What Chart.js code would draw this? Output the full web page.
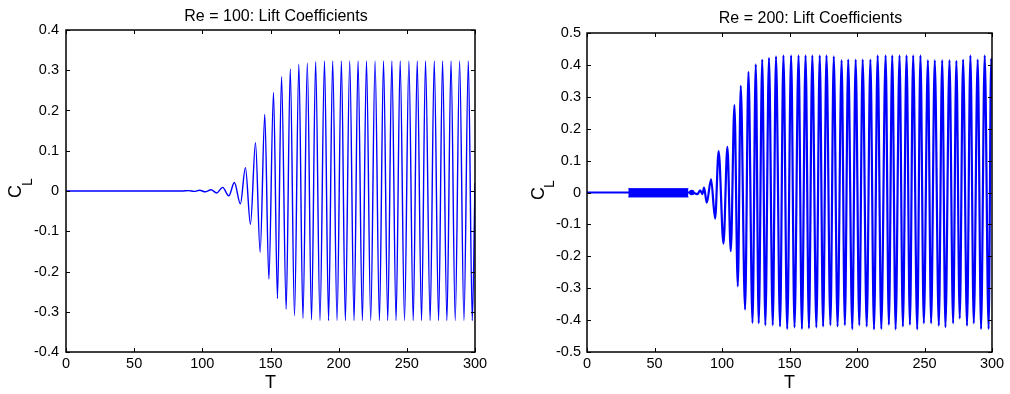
<!DOCTYPE html>
<html>
<head>
<meta charset="utf-8">
<script src="https://cdn.jsdelivr.net/npm/chart.js@4/dist/chart.umd.min.js"></script>
<style>
  html, body { margin: 0; padding: 0; background: #fff; }
  #wrap { position: relative; width: 1010px; height: 394px; }
  #c1 { position: absolute; left: 0; top: 0; }
  #c2 { position: absolute; left: 505px; top: 0; }
</style>
</head>
<body>
<div id="wrap">
  <canvas id="c1" width="505" height="394"></canvas>
  <canvas id="c2" width="505" height="394"></canvas>
</div>
<script>
// ---------- Data ----------
const titles = ["Re = 100: Lift Coefficients", "Re = 200: Lift Coefficients"];
const xTitle = "T";
const yTitleMain = "C";
const yTitleSub = "L";

// Re = 100: extrema of the lift signal
const leftT = [0, 85, 90, 94, 98, 102, 106.4, 110.5, 114.9, 119.4, 123.5, 127.9, 131.6, 135.3, 139.0, 142.4,
  145.8, 148.8, 152.2, 155.1, 158.1, 161.5, 164.5, 167.6, 170.8, 173.8, 177.0, 180.1, 183.1, 186.3, 189.6,
  192.6, 195.6, 198.8, 202.0, 204.9, 208.1, 211.3, 214.2, 217.4, 220.4, 223.5, 226.7, 229.9, 232.9,
  236.0, 239.0, 242.1, 245.1, 248.3, 251.5, 254.7, 257.6, 260.8, 263.7, 267.1, 270.1, 273.3, 276.2,
  279.4, 282.4, 285.5, 288.7, 291.9, 295.1, 298.0, 300];
const leftCL = [0, 0, 0.001, -0.001, 0.002, -0.002, 0.003, -0.005, 0.009, -0.012, 0.021, -0.032, 0.058, -0.083, 0.12, -0.152,
  0.19, -0.219, 0.245, -0.267, 0.284, -0.294, 0.303, -0.31, 0.315, -0.316, 0.318, -0.32, 0.321, -0.322, 0.323,
  -0.322, 0.323, -0.322, 0.323, -0.322, 0.323, -0.322, 0.323, -0.322, 0.323, -0.322, 0.323, -0.322, 0.323,
  -0.322, 0.323, -0.322, 0.323, -0.322, 0.323, -0.322, 0.323, -0.322, 0.323, -0.322, 0.323, -0.322, 0.323,
  -0.322, 0.323, -0.322, 0.323, -0.322, 0.323, -0.322, 0.02];

// Re = 200: extrema of the lift signal
const rightT = [0, 77.6, 81.8, 83.8, 85.5, 86.7, 88.7, 91.9, 94.9, 97.5,
  101.1, 104.0, 106.5, 109.2, 111.7, 113.9, 117.1, 119.6, 122.6, 125.0,
  127.2, 129.8, 132.1, 134.8, 137.6, 140.0, 143.0, 145.5, 148.3, 151.2,
  153.7, 156.7, 159.2, 161.9, 164.4, 166.9, 169.9, 172.4, 174.9, 177.4,
  180.3, 182.8, 185.6, 188.6, 191.0, 193.5, 196.5, 199.0, 201.7, 204.2,
  207.2, 209.9, 212.6, 215.3, 218.0, 221.2, 223.6, 226.1, 228.6, 231.5,
  234.0, 236.7, 239.2, 241.6, 244.6, 247.0, 249.5, 252.5, 254.9, 257.6,
  260.6, 263.1, 265.5, 268.5, 271.2, 273.6, 276.1, 278.6, 281.5, 284.0,
  286.5, 289.4, 291.9, 294.6, 297.5, 299.4, 300];
const rightCL = [0, 0, -0.005, 0.007, -0.005, 0.015, -0.032, 0.041, -0.082, 0.13,
  -0.16, 0.143, -0.184, 0.274, -0.294, 0.334, -0.367, 0.378, -0.409, 0.402,
  -0.41, 0.417, -0.416, 0.422, -0.416, 0.427, -0.42, 0.43, -0.428, 0.43,
  -0.423, 0.43, -0.428, 0.43, -0.426, 0.43, -0.423, 0.43, -0.42, 0.43,
  -0.416, 0.427, -0.42, 0.415, -0.416, 0.417, -0.428, 0.417, -0.416, 0.417,
  -0.42, 0.417, -0.429, 0.43, -0.428, 0.43, -0.415, 0.43, -0.429, 0.43,
  -0.42, 0.43, -0.415, 0.43, -0.429, 0.43, -0.41, 0.415, -0.41, 0.415,
  -0.418, 0.415, -0.422, 0.415, -0.41, 0.413, -0.395, 0.417, -0.418, 0.43,
  -0.41, 0.417, -0.428, 0.43, -0.428, 0.42, 0.35];

// Re = 200: narrow high-frequency band before transition
const bandT = [30.6, 75.1];
const bandHi = [0.012, 0.012];
const bandLo = [-0.014, -0.014];
const dotT = [77.6];
const dotCL = [0.0];

// Axis ticks
const xTicks = [0, 50, 100, 150, 200, 250, 300];
const leftYTicks = [-0.4, -0.3, -0.2, -0.1, 0, 0.1, 0.2, 0.3, 0.4];
const rightYTicks = [-0.5, -0.4, -0.3, -0.2, -0.1, 0, 0.1, 0.2, 0.3, 0.4, 0.5];

// ---------- Helpers ----------
const FONT = "'Liberation Sans', Arial, Helvetica, sans-serif";
const BLUE = "rgb(0,0,255)";
function zip(xs, ys) { return xs.map((x, i) => ({ x: x, y: ys[i] })); }
function fmt(v) { const r = Math.round(v * 10) / 10; return r === 0 ? "0" : String(r); }

const framePlugin = {
  id: "frame",
  afterDraw(chart, args, opts) {
    const ctx = chart.ctx;
    const a = chart.chartArea;
    const xs = chart.scales.x, ys = chart.scales.y;
    ctx.save();
    ctx.strokeStyle = "#000";
    ctx.lineWidth = 1.5;
    ctx.strokeRect(a.left, a.top, a.right - a.left, a.bottom - a.top);
    ctx.lineWidth = 1;
    const tl = 4;
    ctx.beginPath();
    xs.ticks.forEach(t => {
      const px = Math.round(xs.getPixelForValue(t.value)) + 0.5;
      ctx.moveTo(px, a.bottom); ctx.lineTo(px, a.bottom - tl);
      ctx.moveTo(px, a.top); ctx.lineTo(px, a.top + tl);
    });
    ys.ticks.forEach(t => {
      const py = Math.round(ys.getPixelForValue(t.value)) + 0.5;
      ctx.moveTo(a.left, py); ctx.lineTo(a.left + tl, py);
      ctx.moveTo(a.right, py); ctx.lineTo(a.right - tl, py);
    });
    ctx.stroke();
    // title
    ctx.fillStyle = "#000";
    ctx.font = "16px " + FONT;
    ctx.textAlign = "center";
    ctx.textBaseline = "alphabetic";
    ctx.fillText(opts.title, opts.titleX, opts.titleY);
    // y label C_L (rotated)
    ctx.rotate(-Math.PI / 2);
    ctx.textAlign = "left";
    ctx.font = "18px " + FONT;
    ctx.fillText(yTitleMain, -opts.cStartY, opts.cBaseX);
    ctx.font = "14px " + FONT;
    ctx.fillText(yTitleSub, -opts.lStartY, opts.lBaseX);
    ctx.restore();
  }
};

function makeChart(id, datasets, yTicks, yMin, yMax, pad, yWidth, yPad, frameOpts) {
  return new Chart(document.getElementById(id), {
    type: "line",
    data: { datasets: datasets },
    options: {
      responsive: false,
      animation: false,
      events: [],
      layout: { padding: pad },
      plugins: { legend: { display: false }, tooltip: { enabled: false }, title: { display: false }, frame: frameOpts },
      scales: {
        x: {
          type: "linear", min: 0, max: 300,
          afterBuildTicks: s => { s.ticks = xTicks.map(v => ({ value: v })); },
          afterFit: s => { s.height = 42; },
          grid: { display: false, drawTicks: false },
          border: { display: false },
          ticks: { color: "#000", padding: 3, font: { family: FONT, size: 14.5 }, callback: v => String(v), maxRotation: 0, autoSkip: false },
          title: { display: true, text: xTitle, color: "#000", font: { family: FONT, size: 18 }, padding: { top: 0, bottom: 0 } }
        },
        y: {
          type: "linear", min: yMin, max: yMax,
          afterBuildTicks: s => { s.ticks = yTicks.map(v => ({ value: v })); },
          afterFit: s => { s.width = yWidth; },
          grid: { display: false, drawTicks: false },
          border: { display: false },
          ticks: { color: "#000", padding: yPad, font: { family: FONT, size: 14.5 }, callback: v => fmt(v), autoSkip: false }
        }
      }
    },
    plugins: [framePlugin]
  });
}

const lineBase = { borderColor: BLUE, backgroundColor: BLUE, pointRadius: 0, fill: false, cubicInterpolationMode: "monotone" };

makeChart("c1",
  [Object.assign({}, lineBase, { data: zip(leftT, leftCL), borderWidth: 1.4 })],
  leftYTicks, -0.4, 0.4,
  { top: 30, right: 30, left: 0, bottom: 0 }, 66, 7,
  { title: titles[0], titleX: 276, titleY: 20.5, cStartY: 198, cBaseX: 21, lStartY: 186, lBaseX: 32 });

makeChart("c2",
  [
    Object.assign({}, lineBase, { data: zip(bandT, bandHi), borderWidth: 1, fill: "+1", cubicInterpolationMode: "default" }),
    Object.assign({}, lineBase, { data: zip(bandT, bandLo), borderWidth: 1, cubicInterpolationMode: "default" }),
    Object.assign({}, lineBase, { data: zip(dotT, dotCL), pointRadius: 2.8, borderWidth: 0, showLine: false }),
    Object.assign({}, lineBase, { data: zip(rightT, rightCL), borderWidth: 2.2 })
  ],
  rightYTicks, -0.5, 0.5,
  { top: 33, right: 18, left: 0, bottom: 0 }, 82, 6,
  { title: titles[1], titleX: 305.5, titleY: 23, cStartY: 200, cBaseX: 39, lStartY: 188, lBaseX: 49 });
</script>
</body>
</html>
